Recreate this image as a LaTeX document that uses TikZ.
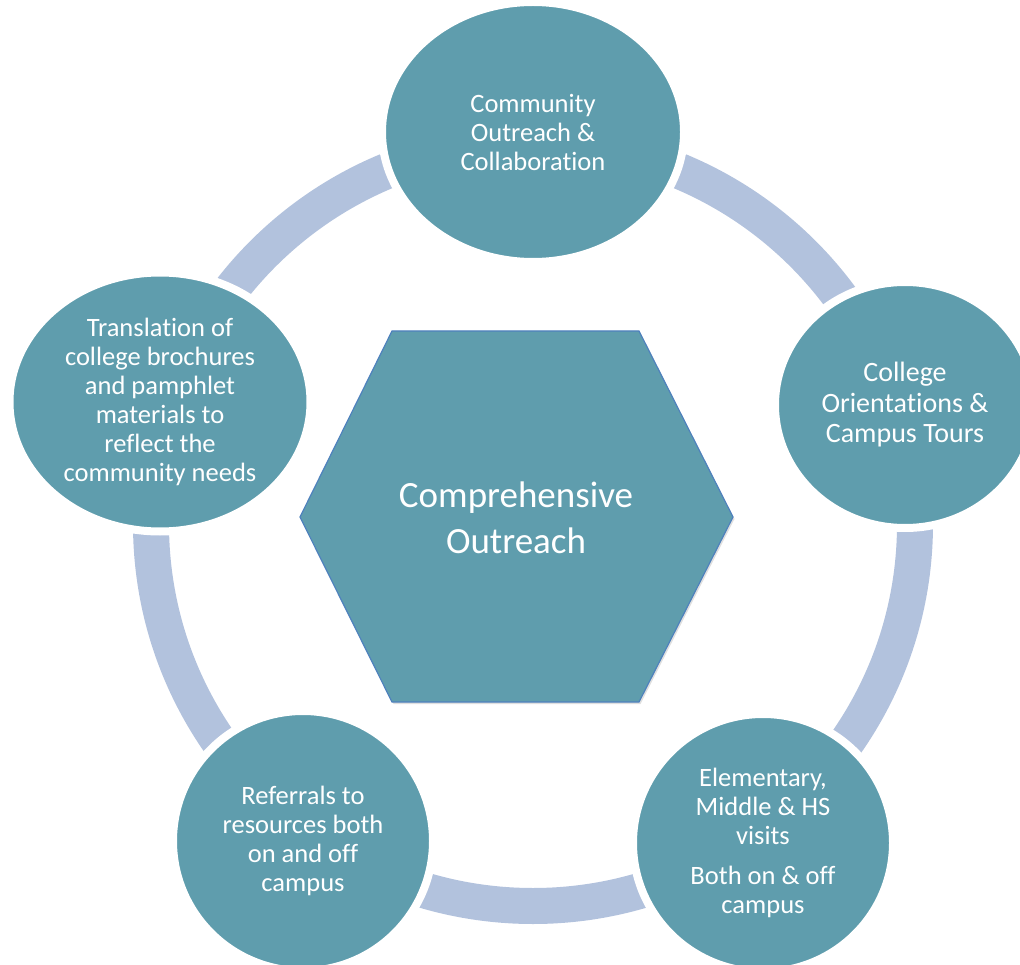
\documentclass[tikz,border=0pt]{standalone}
\usepackage{fontspec}
\setmainfont{Carlito}[Ligatures={NoCommon,NoRequired}]
\usepackage{xcolor}
\usetikzlibrary{shapes.geometric,shadows}
\definecolor{tealfill}{HTML}{5F9DAD}
\definecolor{ringblue}{HTML}{B2C2DD}
\definecolor{hexline}{HTML}{4F81BD}

\begin{document}
\begin{tikzpicture}[x=1pt,y=-1pt,
	bubble/.style={ellipse,fill=tealfill,draw=white,line width=8pt,text=white,align=center,inner sep=0pt,font=\fontsize{26.5}{29}\selectfont},
	ring/.style={draw=ringblue,line width=36pt},
	hexa/.style={fill=tealfill,draw=hexline,line width=1.2pt,drop shadow={shadow xshift=1.5pt,shadow yshift=-2pt,opacity=0.25}}]
			\useasboundingbox (0,0) rectangle (1020,965);
			\coordinate (hub) at (533,524);
			\draw[ring] (hub) circle[radius=382];

			\node[bubble,minimum width=302pt,minimum height=260pt] (outreach) at (533,132) {Community\\Outreach \&\\Collaboration};
			\node[bubble,minimum width=260pt,minimum height=246pt,font=\fontsize{28}{30.5}\selectfont] (tours) at (905,405) {College\\Orientations \&\\Campus Tours};
			\node[bubble,minimum width=260pt,minimum height=258pt] (visits) at (763,843) {Elementary,\\Middle \& HS\\visits\\[11pt]Both on \& off\\campus};
			\node[bubble,minimum width=260pt,minimum height=260pt] (referrals) at (303,841) {Referrals to\\resources both\\on and off\\campus};
			\node[bubble,minimum width=301pt,minimum height=259pt] (translate) at (160,402) {Translation of\\college brochures\\and pamphlet\\materials to\\reflect the\\community needs};

			\draw[hexa] (392,331) -- (639,331) -- (733,517) -- (639,702) -- (392,702) -- (300,517) -- cycle;
			\node[text=white,align=center,font=\fontsize{37}{45.5}\selectfont] (core) at (516,518) {Comprehensive\\Outreach};
			\end{tikzpicture}
\end{document}
